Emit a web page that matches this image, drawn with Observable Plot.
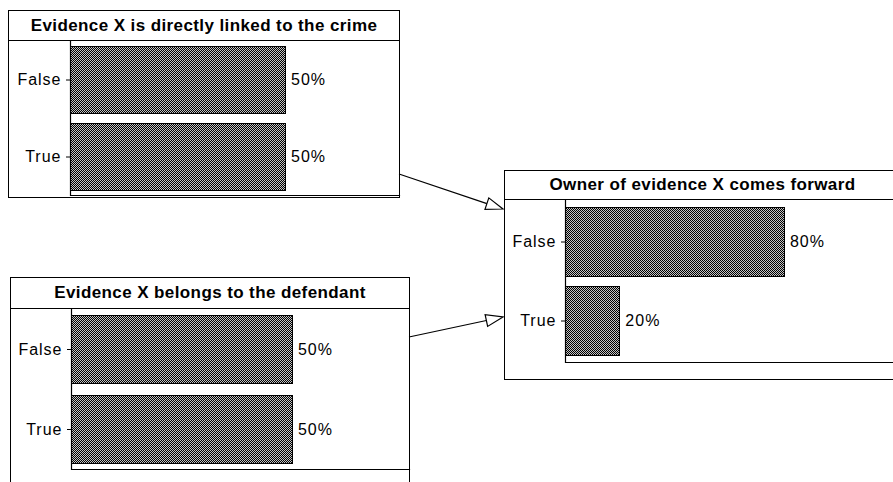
<!DOCTYPE html>
<html><head><meta charset="utf-8">
<script src="https://cdn.jsdelivr.net/npm/d3@7"></script>
<script src="https://cdn.jsdelivr.net/npm/@observablehq/plot@0.6"></script>
<style>
body{margin:0;background:#fff;}
#stage{position:relative;width:893px;height:482px;overflow:hidden;background:#fff;font-family:"Liberation Sans",Arial,sans-serif;}
.node{position:absolute;box-sizing:border-box;border:1px solid #000;background:#fff;}
.node .title{box-sizing:border-box;border-bottom:1px solid #000;text-align:center;font-weight:bold;font-size:17px;letter-spacing:0.4px;white-space:nowrap;color:#000;}
.node svg{display:block;}
#links{position:absolute;left:0;top:0;z-index:5;}
</style></head><body>
<svg width="0" height="0" style="position:absolute"><defs>
<pattern id="dither" width="2" height="2" patternUnits="userSpaceOnUse">
<rect width="2" height="2" fill="#000"/><rect x="0" y="0" width="1" height="1" fill="#c4c4c4"/><rect x="1" y="1" width="1" height="1" fill="#c4c4c4"/>
</pattern></defs></svg>
<div id="stage"></div>
<script>
// ---- data ----
const states = ["False", "True"];
const nodeTitles = [
  "Evidence X is directly linked to the crime",
  "Evidence X belongs to the defendant",
  "Owner of evidence X comes forward"
];
const crimeLinkProbs = [0.5, 0.5];
const belongsProbs = [0.5, 0.5];
const ownerForwardProbs = [0.8, 0.2];

// ---- layout ----
const layouts = [
  {left: 8, top: 10, width: 392, titleH: 30, svgH: 156, mL: 61, mB: 2, pi: 0.13, po: 0.065, boxH: 188},
  {left: 10, top: 277, width: 400, titleH: 31, svgH: 200, mL: 60, mB: 40, pi: 0.15, po: 0.075, boxH: 260},
  {left: 504, top: 170, width: 397, titleH: 29, svgH: 179, mL: 60, mB: 17, pi: 0.125, po: 0.08, boxH: 210}
];
const probSets = [crimeLinkProbs, belongsProbs, ownerForwardProbs];
const links = [
  {from: [399, 174], to: [503, 209]},
  {from: [409, 337], to: [503, 317]}
];

const stage = document.getElementById("stage");

probSets.forEach((probs, i) => {
  const L = layouts[i];
  const data = states.map((s, j) => ({state: s, p: probs[j]}));
  const box = document.createElement("div");
  box.className = "node";
  Object.assign(box.style, {left: L.left + "px", top: L.top + "px", width: L.width + "px", height: L.boxH + "px"});
  const title = document.createElement("div");
  title.className = "title";
  title.textContent = nodeTitles[i];
  Object.assign(title.style, {height: L.titleH + "px", lineHeight: (L.titleH - 1) + "px"});
  box.appendChild(title);
  const maxP = d3.max(probs);
  const chart = Plot.plot({
    width: L.width - 2,
    height: L.svgH,
    marginLeft: L.mL,
    marginRight: 0,
    marginTop: 0,
    marginBottom: L.mB,
    style: {fontFamily: '"Liberation Sans", Arial, sans-serif', fontSize: "16px", letterSpacing: "1px", color: "#000", background: "transparent", overflow: "visible"},
    x: {domain: [0, maxP / 0.655], axis: null},
    y: {domain: states, paddingInner: L.pi, paddingOuter: L.po, label: null, tickSize: 4, tickPadding: 5},
    marks: [
      Plot.barX(data, {y: "state", x: "p", fill: "url(#dither)", stroke: "#000", strokeWidth: 1, shapeRendering: "crispEdges"}),
      Plot.text(data, {y: "state", x: "p", text: d => Math.round(d.p * 100) + "%", textAnchor: "start", dx: 5, fill: "#000"}),
      Plot.ruleX([0], {stroke: "#000", strokeWidth: 1.2}),
      Plot.frame({anchor: "bottom", stroke: "#000", strokeWidth: 1.2})
    ]
  });
  box.appendChild(chart);
  stage.appendChild(box);
});

// ---- links (arrows) ----
const svg = d3.select(stage).append("svg").attr("id", "links").attr("width", 893).attr("height", 482);
links.forEach(l => {
  const [sx, sy] = l.from, [tx, ty] = l.to;
  const dx = tx - sx, dy = ty - sy, len = Math.hypot(dx, dy);
  const ux = dx / len, uy = dy / len, nx = -uy, ny = ux;
  const bx = tx - 17 * ux, by = ty - 17 * uy;
  svg.append("line").attr("x1", sx).attr("y1", sy).attr("x2", bx).attr("y2", by).attr("stroke", "#000").attr("stroke-width", 1.2);
  svg.append("polygon")
    .attr("points", [[tx, ty], [bx + 6 * nx, by + 6 * ny], [bx - 6 * nx, by - 6 * ny]].map(p => p.join(",")).join(" "))
    .attr("fill", "#fff").attr("stroke", "#000").attr("stroke-width", 1.2);
});
</script>
</body></html>
